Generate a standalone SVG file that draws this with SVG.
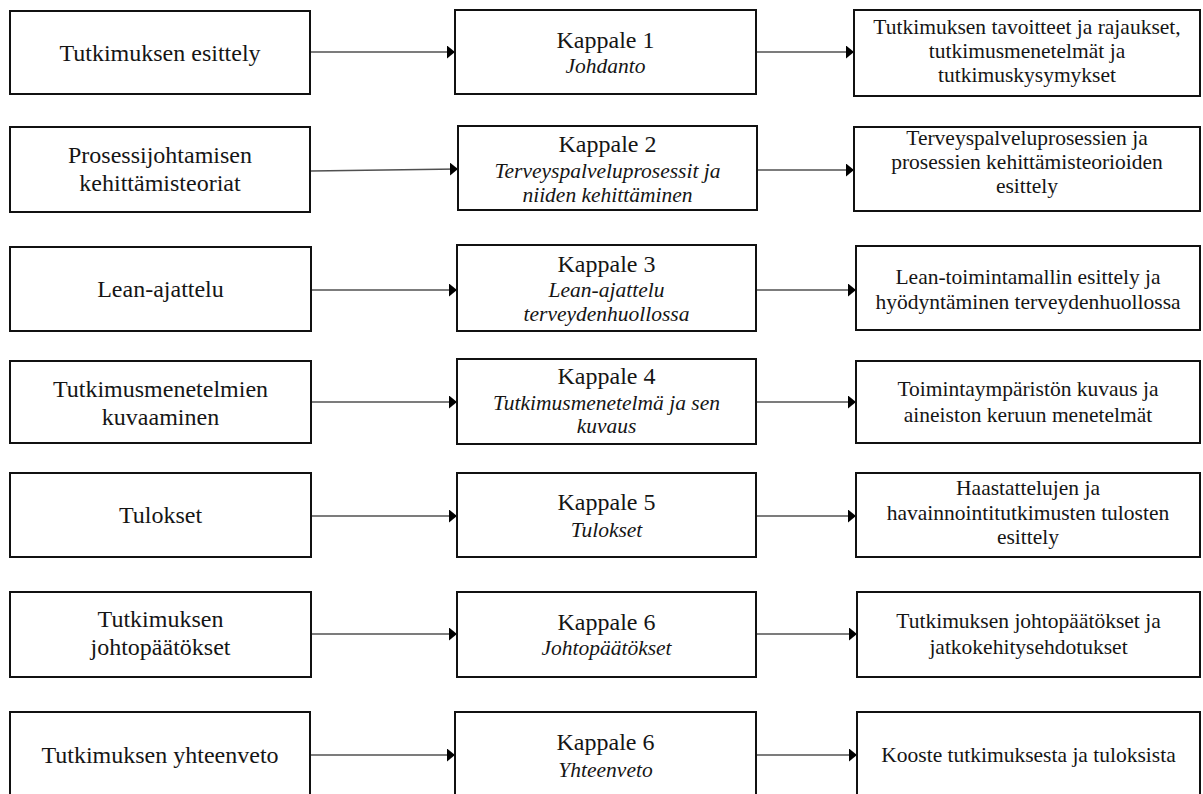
<svg xmlns="http://www.w3.org/2000/svg" width="1203" height="794" viewBox="0 0 1203 794">
  <style>
    .box { fill: #ffffff; stroke: #111111; stroke-width: 2; }
    .t { fill: #151515; text-anchor: middle; }
    .big { font-size: 24px; }
    .small { font-size: 21.5px; }
    .it { font-style: italic; font-size: 21.5px; }
    .link { stroke: #505050; stroke-width: 1.3; fill: none; marker-end: url(#head); }
  </style>
  <defs>
    <marker id="head" markerUnits="userSpaceOnUse" viewBox="0 0 8 13" markerWidth="8" markerHeight="13" refX="8" refY="6.5" orient="auto">
      <path d="M0,0 L8,6.5 L0,13 z" fill="#000000"/>
    </marker>
  </defs>
  <rect width="1203" height="794" fill="#ffffff"/>

  <!-- connectors -->
  <g id="connectors">
    <line class="link" x1="311" y1="52" x2="455" y2="52"/>
    <line class="link" x1="756" y1="52" x2="854" y2="52"/>
    <line class="link" x1="311" y1="171" x2="458" y2="169"/>
    <line class="link" x1="757" y1="170" x2="854" y2="170"/>
    <line class="link" x1="312" y1="290" x2="457" y2="290"/>
    <line class="link" x1="756" y1="290" x2="856" y2="290"/>
    <line class="link" x1="312" y1="402" x2="457" y2="402"/>
    <line class="link" x1="756" y1="402" x2="856" y2="402"/>
    <line class="link" x1="312" y1="516" x2="457" y2="516"/>
    <line class="link" x1="756" y1="516" x2="856" y2="516"/>
    <line class="link" x1="312" y1="634" x2="457" y2="634"/>
    <line class="link" x1="756" y1="634" x2="857" y2="634"/>
    <line class="link" x1="311" y1="755" x2="455" y2="755"/>
    <line class="link" x1="756" y1="755" x2="857" y2="755"/>
  </g>

  <g font-family="'Liberation Serif', 'Times New Roman', serif">
  <!-- row 1 -->
  <g id="topic1">
    <rect class="box" x="10" y="11" width="300" height="83"/>
    <text class="t big" x="160" y="61">Tutkimuksen esittely</text>
  </g>
  <g id="chapter1">
    <rect class="box" x="455" y="10" width="301" height="84"/>
    <text class="t big" x="605.5" y="48">Kappale 1</text>
    <text class="t it" x="605.5" y="73">Johdanto</text>
  </g>
  <g id="content1">
    <rect class="box" x="854" y="10" width="346" height="86"/>
    <text class="t small" x="1027" y="34">Tutkimuksen tavoitteet ja rajaukset,</text>
    <text class="t small" x="1027" y="58">tutkimusmenetelmät ja</text>
    <text class="t small" x="1027" y="82">tutkimuskysymykset</text>
  </g>

  <!-- row 2 -->
  <g id="topic2">
    <rect class="box" x="10" y="127" width="300" height="85"/>
    <text class="t big" x="160" y="163">Prosessijohtamisen</text>
    <text class="t big" x="160" y="191">kehittämisteoriat</text>
  </g>
  <g id="chapter2">
    <rect class="box" x="458" y="126" width="299" height="84"/>
    <text class="t big" x="607.5" y="152">Kappale 2</text>
    <text class="t it" x="607.5" y="178">Terveyspalveluprosessit ja</text>
    <text class="t it" x="607.5" y="202">niiden kehittäminen</text>
  </g>
  <g id="content2">
    <rect class="box" x="854" y="127" width="346" height="84"/>
    <text class="t small" x="1027" y="145">Terveyspalveluprosessien ja</text>
    <text class="t small" x="1027" y="169">prosessien kehittämisteorioiden</text>
    <text class="t small" x="1027" y="193">esittely</text>
  </g>

  <!-- row 3 -->
  <g id="topic3">
    <rect class="box" x="10" y="247" width="301" height="84"/>
    <text class="t big" x="160.5" y="297">Lean-ajattelu</text>
  </g>
  <g id="chapter3">
    <rect class="box" x="457" y="245" width="299" height="86"/>
    <text class="t big" x="606.5" y="272">Kappale 3</text>
    <text class="t it" x="606.5" y="297">Lean-ajattelu</text>
    <text class="t it" x="606.5" y="321">terveydenhuollossa</text>
  </g>
  <g id="content3">
    <rect class="box" x="856" y="246" width="344" height="84"/>
    <text class="t small" x="1028" y="284">Lean-toimintamallin esittely ja</text>
    <text class="t small" x="1028" y="309">hyödyntäminen terveydenhuollossa</text>
  </g>

  <!-- row 4 -->
  <g id="topic4">
    <rect class="box" x="10" y="361" width="301" height="82"/>
    <text class="t big" x="160.5" y="397">Tutkimusmenetelmien</text>
    <text class="t big" x="160.5" y="425">kuvaaminen</text>
  </g>
  <g id="chapter4">
    <rect class="box" x="457" y="359" width="299" height="85"/>
    <text class="t big" x="606.5" y="384">Kappale 4</text>
    <text class="t it" x="606.5" y="410">Tutkimusmenetelmä ja sen</text>
    <text class="t it" x="606.5" y="433">kuvaus</text>
  </g>
  <g id="content4">
    <rect class="box" x="856" y="361" width="344" height="82"/>
    <text class="t small" x="1028" y="396">Toimintaympäristön kuvaus ja</text>
    <text class="t small" x="1028" y="422">aineiston keruun menetelmät</text>
  </g>

  <!-- row 5 -->
  <g id="topic5">
    <rect class="box" x="10" y="473" width="301" height="84"/>
    <text class="t big" x="160.5" y="523">Tulokset</text>
  </g>
  <g id="chapter5">
    <rect class="box" x="457" y="473" width="299" height="84"/>
    <text class="t big" x="606.5" y="510">Kappale 5</text>
    <text class="t it" x="606.5" y="537">Tulokset</text>
  </g>
  <g id="content5">
    <rect class="box" x="856" y="473" width="344" height="84"/>
    <text class="t small" x="1028" y="495">Haastattelujen ja</text>
    <text class="t small" x="1028" y="520">havainnointitutkimusten tulosten</text>
    <text class="t small" x="1028" y="544">esittely</text>
  </g>

  <!-- row 6 -->
  <g id="topic6">
    <rect class="box" x="10" y="592" width="301" height="85"/>
    <text class="t big" x="160.5" y="627">Tutkimuksen</text>
    <text class="t big" x="160.5" y="655">johtopäätökset</text>
  </g>
  <g id="chapter6">
    <rect class="box" x="457" y="592" width="299" height="85"/>
    <text class="t big" x="606.5" y="630">Kappale 6</text>
    <text class="t it" x="606.5" y="655">Johtopäätökset</text>
  </g>
  <g id="content6">
    <rect class="box" x="857" y="592" width="343" height="85"/>
    <text class="t small" x="1028.5" y="628">Tutkimuksen johtopäätökset ja</text>
    <text class="t small" x="1028.5" y="654">jatkokehitysehdotukset</text>
  </g>

  <!-- row 7 (continues below the lower edge) -->
  <g id="topic7">
    <rect class="box" x="10" y="712" width="300" height="90"/>
    <text class="t big" x="160" y="763">Tutkimuksen yhteenveto</text>
  </g>
  <g id="chapter7">
    <rect class="box" x="455" y="712" width="301" height="90"/>
    <text class="t big" x="605.5" y="750">Kappale 6</text>
    <text class="t it" x="605.5" y="777">Yhteenveto</text>
  </g>
  <g id="content7">
    <rect class="box" x="857" y="712" width="343" height="90"/>
    <text class="t small" x="1028.5" y="762">Kooste tutkimuksesta ja tuloksista</text>
  </g>
  </g>
</svg>
